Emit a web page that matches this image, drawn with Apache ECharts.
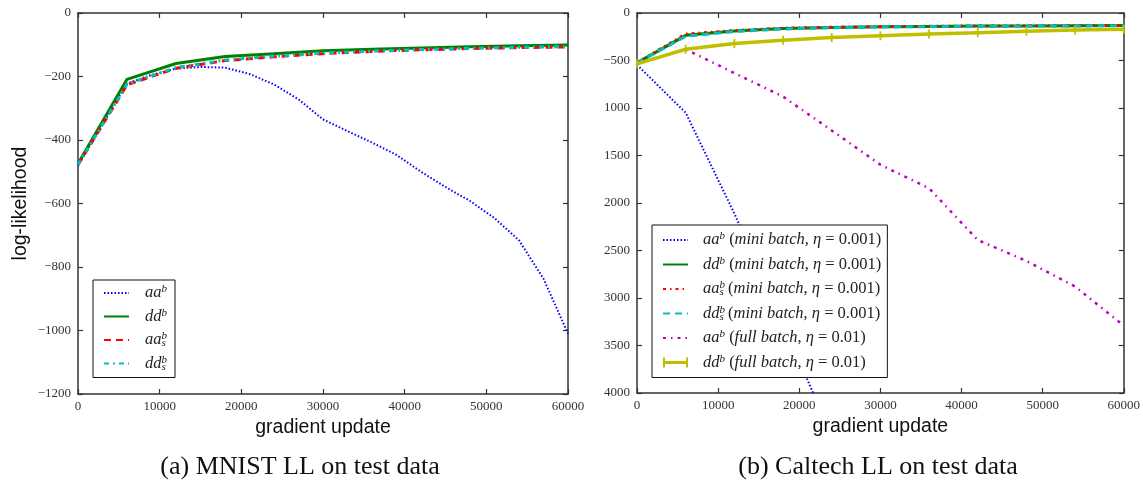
<!DOCTYPE html>
<html><head><meta charset="utf-8">
<script src="https://cdn.jsdelivr.net/npm/echarts@6/dist/echarts.min.js"></script>
<style>html,body{margin:0;padding:0;background:#fff}#c{width:1143px;height:483px}</style>
</head><body><div id="c"></div>
<script>
// ---------- data ----------
const xCoarse = [0, 6000, 12000, 18000, 24000, 30000, 36000, 42000, 48000, 54000, 60000];
const xFine = [0, 3000, 6000, 9000, 12000, 15000, 18000, 21000, 24000, 27000, 30000,
  33000, 36000, 39000, 42000, 45000, 48000, 51000, 54000, 57000, 60000];

// (a) MNIST
const mnistAAb = [-480, -350, -222, -195, -175, -170, -172, -192, -225, -272, -335,
  -372, -408, -447, -500, -548, -592, -646, -716, -837, -1010];
const mnistDDb  = [-475, -209, -159, -137, -128, -119, -114, -110, -106, -103, -101];
const mnistAAsb = [-478, -226, -174, -150, -138, -128, -121, -116, -112, -109, -107];
const mnistDDsb = [-478, -224, -172, -148, -136, -126, -120, -115, -111, -108, -106];

// (b) Caltech
const xCaltechBlue = [0, 6000, 12000, 18000, 24000];
const calAAbMini  = [-545, -1050, -2110, -3270, -4450];
const calDDbMini  = [-525, -235, -190, -163, -152, -146, -141, -138, -136, -134, -132];
const calAAsbMini = [-525, -222, -185, -160, -150, -144, -140, -137, -135, -133, -131];
const calDDsbMini = [-525, -245, -195, -168, -155, -148, -143, -140, -138, -136, -134];
const calAAbFull  = [-535, -382, -632, -880, -1236, -1597, -1845, -2390, -2610, -2880, -3290];
const calDDbFull  = [-535, -382, -322, -288, -258, -240, -222, -207, -192, -180, -172];

// tick labels
const xTickLabels = {0:'0',10000:'10000',20000:'20000',30000:'30000',40000:'40000',50000:'50000',60000:'60000'};
const mnistYTicks = [0, -200, -400, -600, -800, -1000, -1200];
const mnistYTickText = ['0', '\u2212200', '\u2212400', '\u2212600', '\u2212800', '\u22121000', '\u22121200'];
const calYTicks = [0, -500, -1000, -1500, -2000, -2500, -3000, -3500, -4000];
const calYTickText = ['0', '\u2212500', '1000', '1500', '2000', '2500', '3000', '3500', '4000'];

const legendNames = {
  m_aab: '{it|aa}{sup|b}',
  m_ddb: '{it|dd}{sup|b}',
  m_aasb: '{it|aa}{supz|b}{sub|s}',
  m_ddsb: '{it|dd}{supz|b}{sub|s}',
  c_aab_mini: '{it|aa}{sup|b} {rm|(}{it|mini batch}{rm|,} {it|\u03b7}{rm| = 0.001)}',
  c_ddb_mini: '{it|dd}{sup|b} {rm|(}{it|mini batch}{rm|,} {it|\u03b7}{rm| = 0.001)}',
  c_aasb_mini: '{it|aa}{supz|b}{sub|s} {rm|(}{it|mini batch}{rm|,} {it|\u03b7}{rm| = 0.001)}',
  c_ddsb_mini: '{it|dd}{supz|b}{sub|s} {rm|(}{it|mini batch}{rm|,} {it|\u03b7}{rm| = 0.001)}',
  c_aab_full: '{it|aa}{sup|b} {rm|(}{it|full batch}{rm|,} {it|\u03b7}{rm| = 0.01)}',
  c_ddb_full: '{it|dd}{sup|b} {rm|(}{it|full batch}{rm|,} {it|\u03b7}{rm| = 0.01)}'
};

// ---------- styling ----------
const C = {blue:'#0000ff', green:'#008000', red:'#ff0000', cyan:'#00bfbf', magenta:'#bf00bf', yellow:'#bfbf00'};
const serif = 'Liberation Serif';
const sans = 'Liberation Sans';
const axisCol = '#333';

function pairs(xs, ys){ return ys.map((v,i)=>[xs[i], v]); }
function lineSeries(name, xi, yi, xs, ys, color, width, type, z){
  return {name, type:'line', xAxisIndex:xi, yAxisIndex:yi, data:pairs(xs, ys),
    symbol:'none', clip:true, z:z, animation:false, silent:true,
    lineStyle:{color, width, type, cap:'butt'}, itemStyle:{color}};
}
function xAxisPair(grid){
  const base = {type:'value', gridIndex:grid, min:0, max:60000, interval:10000,
    axisLine:{show:true, onZero:false, lineStyle:{color:axisCol, width:1.5}},
    axisTick:{show:true, inside:true, length:5, lineStyle:{color:axisCol, width:1.2}},
    splitLine:{show:false}};
  return [
    Object.assign({}, base, {position:'bottom', name:'gradient update', nameLocation:'middle', nameGap:20,
      nameTextStyle:{fontFamily:sans, fontSize:19.5, color:'#111'},
      axisLabel:{show:true, margin:6, fontFamily:serif, fontSize:13, color:'#333',
        formatter:v=>xTickLabels[v] !== undefined ? xTickLabels[v] : ''}}),
    Object.assign({}, base, {position:'top', axisLabel:{show:false}})
  ];
}
function yAxisPair(grid, min, interval, ticks, texts, name){
  const base = {type:'value', gridIndex:grid, min:min, max:0, interval:interval,
    axisLine:{show:true, onZero:false, lineStyle:{color:axisCol, width:1.5}},
    axisTick:{show:true, inside:true, length:5, lineStyle:{color:axisCol, width:1.2}},
    splitLine:{show:false}};
  const left = Object.assign({}, base, {position:'left',
      axisLabel:{show:true, margin:7, fontFamily:serif, fontSize:13, color:'#333',
        formatter:v=>{ const i = ticks.indexOf(v); return i>=0 ? texts[i] : ''; }}});
  if (name) Object.assign(left, {name:name, nameLocation:'middle', nameGap:47, nameRotate:90,
      nameTextStyle:{fontFamily:sans, fontSize:19.5, color:'#111'}});
  return [left, Object.assign({}, base, {position:'right', axisLabel:{show:false}})];
}
const FS = 16.5;
const richBase = {
  it:{fontFamily:serif, fontStyle:'italic', fontSize:FS, color:'#222', lineHeight:18},
  rm:{fontFamily:serif, fontSize:FS, color:'#222', lineHeight:18},
  sup:{fontFamily:serif, fontStyle:'italic', fontSize:11, color:'#222', lineHeight:12, verticalAlign:'top'},
  supz:{fontFamily:serif, fontStyle:'italic', fontSize:11, color:'#222', lineHeight:12, verticalAlign:'top', width:0.1},
  sub:{fontFamily:serif, fontStyle:'italic', fontSize:11, color:'#222', lineHeight:12, verticalAlign:'bottom'}
};
function legendCfg(names, left, top, gap, textPad, padding){
  return {show:true, orient:'vertical', left:left, top:top, itemGap:gap,
    itemWidth:25, itemHeight:10, padding:padding,
    backgroundColor:'#fff', borderColor:'#111', borderWidth:1, borderRadius:0,
    selectedMode:false,
    data:names.map(n=> n==='c_ddb_full'
      ? {name:n, icon:'path://M0,0H2V3.6H23V0H25V10H23V6.4H2V10H0Z', itemStyle:{color:C.yellow}}
      : {name:n, itemStyle:{opacity:0}}),
    formatter:n=>legendNames[n],
    textStyle:{fontFamily:serif, fontSize:FS, color:'#222', lineHeight:18, padding:[0,0,0,textPad], rich:richBase}};
}

const option = {
  backgroundColor:'#fff',
  animation:false,
  title:[
    {text:'(a) MNIST LL on test data', left:295, top:449, textAlign:'center',
      textStyle:{fontFamily:serif, fontSize:26, fontWeight:'normal', color:'#111'}},
    {text:'(b) Caltech LL on test data', left:873, top:449, textAlign:'center',
      textStyle:{fontFamily:serif, fontSize:26, fontWeight:'normal', color:'#111'}}
  ],
  grid:[
    {left:78, top:13, width:490, height:381},
    {left:637, top:13, width:490, height:380}
  ],
  xAxis:[...xAxisPair(0), ...xAxisPair(1)],
  yAxis:[...yAxisPair(0, -1200, 200, mnistYTicks, mnistYTickText, 'log-likelihood'),
         ...yAxisPair(1, -4000, 500, calYTicks, calYTickText, null)],
  legend:[
    legendCfg(['m_aab','m_ddb','m_aasb','m_ddsb'], 93, 280, 5.5, 11, [4,8,5,10]),
    legendCfg(['c_aab_mini','c_ddb_mini','c_aasb_mini','c_ddsb_mini','c_aab_full','c_ddb_full'], 652, 225, 6.5, 10, [6,6,6,10])
  ],
  series:[
    lineSeries('m_aab', 0, 0, xFine, mnistAAb, C.blue, 2, [1.5, 2], 2),
    lineSeries('m_ddb', 0, 0, xCoarse, mnistDDb, C.green, 3, 'solid', 3),
    lineSeries('m_aasb', 0, 0, xCoarse, mnistAAsb, C.red, 3, [7, 5], 4),
    lineSeries('m_ddsb', 0, 0, xCoarse, mnistDDsb, C.cyan, 3, [5, 4, 2, 4], 5),
    lineSeries('c_aab_mini', 2, 2, xCaltechBlue, calAAbMini, C.blue, 2, [1.5, 2], 2),
    lineSeries('c_ddb_mini', 2, 2, xCoarse, calDDbMini, C.green, 3, 'solid', 3),
    lineSeries('c_aasb_mini', 2, 2, xCoarse, calAAsbMini, C.red, 3, [3, 4, 1.5, 4], 4),
    lineSeries('c_ddsb_mini', 2, 2, xCoarse, calDDsbMini, C.cyan, 3, [7, 5], 5),
    lineSeries('c_aab_full', 2, 2, xCoarse, calAAbFull, C.magenta, 2.5, [3, 5, 1.5, 5], 6),
    Object.assign(lineSeries('c_ddb_full', 2, 2, xCoarse, calDDbFull, C.yellow, 3.5, 'solid', 7),
      {symbol:'rect', symbolSize:[1.8, 9], showSymbol:true, showAllSymbol:true})
  ]
};
const chart = echarts.init(document.getElementById('c'), null, {renderer:'canvas'});
chart.setOption(option);
</script>
</body></html>
